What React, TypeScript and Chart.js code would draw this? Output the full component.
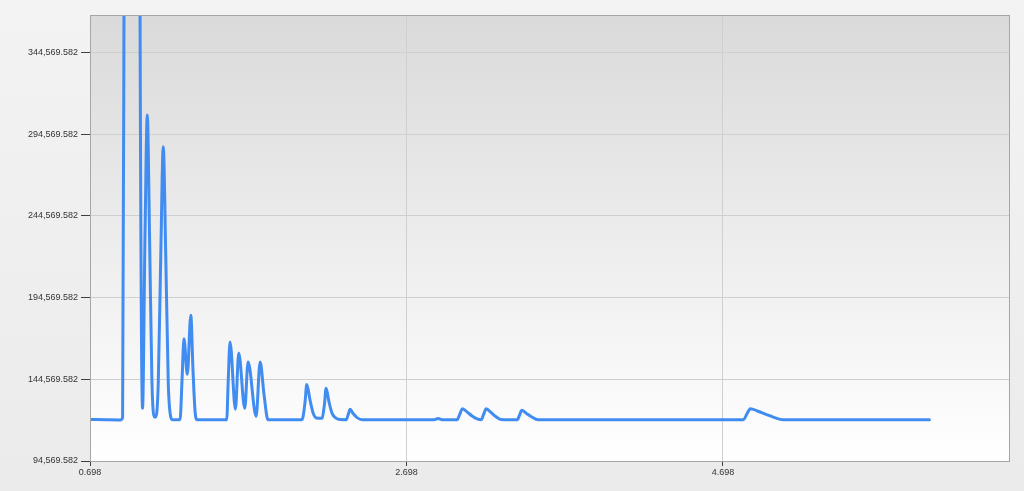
import React, { useEffect, useRef } from "react";
import { Chart, registerables } from "chart.js";

Chart.register(...registerables);

const retentionTimes: number[] = [
  0.698, 0.8, 0.89, 0.904, 0.913, 0.926, 0.964, 1.001, 1.014, 1.03,
  1.0455, 1.06, 1.0745, 1.089, 1.1035, 1.1136, 1.1294, 1.1452, 1.161, 1.1768,
  1.1926, 1.2084, 1.22, 1.267, 1.28, 1.292, 1.313, 1.335, 1.349, 1.362,
  1.375, 1.562, 1.572, 1.583, 1.617, 1.638, 1.676, 1.697, 1.748, 1.773,
  1.798, 1.823, 2.038, 2.057, 2.068, 2.089, 2.108, 2.13, 2.157, 2.165,
  2.18, 2.19, 2.209, 2.228, 2.253, 2.279, 2.317, 2.33, 2.342, 2.361,
  2.386, 2.418, 2.873, 2.898, 2.924, 3.018, 3.035, 3.052, 3.082, 3.113,
  3.145, 3.17, 3.186, 3.202, 3.232, 3.262, 3.295, 3.398, 3.413, 3.427,
  3.456, 3.49, 3.53, 4.827, 4.85, 4.871, 4.92, 4.966, 5.02, 5.079,
  6.003,
];

const intensities: number[] = [
  120000, 119800, 119700, 121000, 380000, 1000000, 1500000, 1000000, 380000, 126800,
  231600, 306200, 231600, 145000, 121500, 121500, 142300, 220000, 286800, 220000,
  142300, 121500, 119800, 119800, 145000, 169300, 147600, 183800, 150000, 125000,
  119800, 119800, 145000, 167400, 126200, 160700, 126800, 155200, 121900, 155200,
  135000, 119800, 119800, 130500, 141300, 131600, 124000, 120900, 120700, 120900,
  129500, 139100, 130400, 123700, 120800, 119900, 119800, 123000, 126200, 123600,
  121100, 119800, 119800, 120600, 119800, 119800, 123200, 126600, 124500, 122100,
  120300, 119800, 123200, 126600, 124300, 121800, 120000, 119800, 122700, 125600,
  123700, 121500, 119800, 119800, 123500, 126600, 125000, 123300, 121300, 119800,
  119800,
];

const yTickValues: number[] = [94569.582, 144569.582, 194569.582, 244569.582, 294569.582, 344569.582];
const xTickValues: number[] = [0.698, 2.698, 4.698];

const Y_MIN = 94569.582;
const Y_MAX = 367430;
const X_MIN = 0.698;
const X_MAX = 6.506;

const plotBackground = {
  id: "plotBackground",
  beforeDraw(chart: any) {
    const { ctx, chartArea } = chart;
    if (!chartArea) return;
    const g = ctx.createLinearGradient(0, chartArea.top, 0, chartArea.bottom);
    g.addColorStop(0, "#dadada");
    g.addColorStop(1, "#ffffff");
    ctx.save();
    ctx.fillStyle = g;
    ctx.fillRect(chartArea.left, chartArea.top, chartArea.right - chartArea.left, chartArea.bottom - chartArea.top);
    ctx.restore();
  },
  afterDraw(chart: any) {
    const { ctx, chartArea } = chart;
    ctx.save();
    ctx.strokeStyle = "#a6a6a6";
    ctx.lineWidth = 1;
    ctx.strokeRect(
      Math.round(chartArea.left) + 0.5,
      Math.round(chartArea.top) + 0.5,
      Math.round(chartArea.right - chartArea.left),
      Math.round(chartArea.bottom - chartArea.top)
    );
    ctx.restore();
  },
};

export default function App() {
  const canvasRef = useRef<HTMLCanvasElement | null>(null);

  useEffect(() => {
    if (!canvasRef.current) return;
    const points = retentionTimes.map((t, i) => ({ x: t, y: intensities[i] }));
    const font = { family: "'Liberation Sans', Arial, sans-serif", size: 9 };
    const chart = new Chart(canvasRef.current, {
      type: "line",
      data: {
        datasets: [
          {
            data: points,
            borderColor: "#418CF0",
            borderWidth: 3,
            pointRadius: 0,
            cubicInterpolationMode: "monotone",
            borderJoinStyle: "round",
            borderCapStyle: "round",
            fill: false,
            clip: 0,
          } as any,
        ],
      },
      options: {
        animation: false,
        responsive: true,
        maintainAspectRatio: false,
        layout: { padding: { left: 0, top: 15, right: 15, bottom: 0 } },
        plugins: { legend: { display: false }, tooltip: { enabled: false } },
        scales: {
          x: {
            type: "linear",
            min: X_MIN,
            max: X_MAX,
            afterBuildTicks: (scale: any) => {
              scale.ticks = xTickValues.map((v) => ({ value: v }));
            },
            afterFit: (scale: any) => {
              scale.height = 30;
            },
            ticks: {
              autoSkip: false,
              maxRotation: 0,
              color: "#333333",
              font,
              padding: 1,
              callback: (v: any) => Number(v).toFixed(3),
            },
            grid: {
              color: "#cfcfcf",
              tickColor: "#404040",
              tickLength: 5,
            },
            border: { display: true, color: "#a6a6a6" },
          },
          y: {
            type: "linear",
            min: Y_MIN,
            max: Y_MAX,
            afterBuildTicks: (scale: any) => {
              scale.ticks = yTickValues.map((v) => ({ value: v }));
            },
            afterFit: (scale: any) => {
              scale.width = 90;
            },
            ticks: {
              autoSkip: false,
              color: "#333333",
              font,
              padding: 3,
              callback: (v: any) =>
                Number(v).toLocaleString("en-US", { minimumFractionDigits: 3, maximumFractionDigits: 3 }),
            },
            grid: {
              color: "#cfcfcf",
              tickColor: "#404040",
              tickLength: 9,
            },
            border: { display: true, color: "#a6a6a6" },
          },
        },
      },
      plugins: [plotBackground],
    } as any);
    return () => chart.destroy();
  }, []);

  return (
    <div
      style={{
        position: "absolute",
        left: 0,
        top: 0,
        width: 1024,
        height: 491,
        background: "linear-gradient(#f3f3f3, #ebebeb)",
      }}
    >
      <canvas ref={canvasRef} />
    </div>
  );
}
